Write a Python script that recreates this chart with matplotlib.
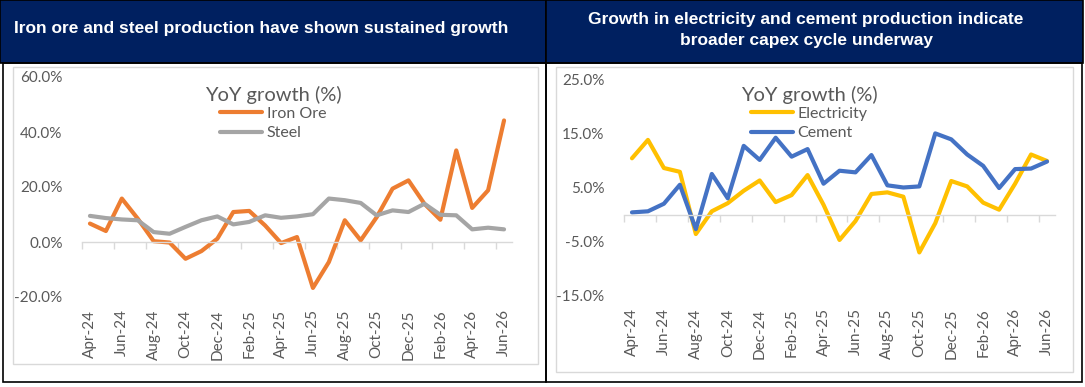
import matplotlib
matplotlib.use('Agg')
import matplotlib.pyplot as plt
from matplotlib.patches import Rectangle

months = ['Apr-24', 'May-24', 'Jun-24', 'Jul-24', 'Aug-24', 'Sep-24', 'Oct-24', 'Nov-24', 'Dec-24',
          'Jan-25', 'Feb-25', 'Mar-25', 'Apr-25', 'May-25', 'Jun-25', 'Jul-25', 'Aug-25', 'Sep-25',
          'Oct-25', 'Nov-25', 'Dec-25', 'Jan-26', 'Feb-26', 'Mar-26', 'Apr-26', 'May-26', 'Jun-26']

iron_ore = [6.7, 4.0, 15.8, 8.5, 0.3, -0.2, -6.1, -3.3, 1.2, 10.9, 11.3, 6.0, -0.4, 1.8,
            -16.7, -7.3, 7.9, 0.6, 9.0, 19.4, 22.4, 13.9, 8.1, 33.3, 12.4, 18.8, 44.2]
steel = [9.5, 8.7, 8.2, 7.9, 3.6, 3.0, 5.5, 7.9, 9.3, 6.4, 7.3, 9.7, 8.8, 9.3,
         10.1, 15.8, 15.2, 14.2, 9.7, 11.5, 10.9, 13.9, 9.9, 9.7, 4.6, 5.2, 4.6]

electricity = [10.4, 13.8, 8.6, 7.9, -3.6, 0.6, 2.1, 4.4, 6.3, 2.3, 3.6, 7.3, 1.8, -4.7,
               -1.2, 3.8, 4.1, 3.3, -7.0, -1.6, 6.2, 5.2, 2.2, 0.9, 5.7, 11.1, 9.9]
cement = [0.4, 0.6, 2.0, 5.5, -2.7, 7.5, 3.0, 12.7, 10.1, 14.2, 10.7, 12.1, 5.7, 8.1,
          7.8, 11.0, 5.4, 5.0, 5.2, 15.0, 13.9, 11.1, 9.0, 4.9, 8.4, 8.5, 9.8]

left_ticks = [-20, 0, 20, 40, 60]
right_ticks = [-15, -5, 5, 15, 25]

W, H = 1085, 387
NAVY = '#002060'
TXT = '#595959'
FONT = 'Lato'


def box(x0, y0, x1, y1):
    # pixel box -> figure fraction rect
    return (x0 / W, 1 - y1 / H), (x1 - x0) / W, (y1 - y0) / H


fig = plt.figure(figsize=(10.85, 3.87), dpi=100)
fig.patch.set_facecolor('white')

# headers and frames
for (x0, x1) in [(0, 546), (546, 1083)]:
    xy, w, h = box(x0, 0, x1, 63)
    fig.patches.append(Rectangle(xy, w, h, transform=fig.transFigure, facecolor=NAVY,
                                 edgecolor='black', linewidth=1.2, zorder=0))
xy, w, h = box(3, 63, 546, 382)
fig.patches.append(Rectangle(xy, w, h, transform=fig.transFigure, facecolor='none',
                             edgecolor='black', linewidth=1.2, zorder=0))
xy, w, h = box(546, 63, 1082, 382)
fig.patches.append(Rectangle(xy, w, h, transform=fig.transFigure, facecolor='none',
                             edgecolor='black', linewidth=1.2, zorder=0))
xy, w, h = box(13, 67, 538, 364)
fig.patches.append(Rectangle(xy, w, h, transform=fig.transFigure, facecolor='none',
                             edgecolor='#D9D9D9', linewidth=1.0, zorder=0))
xy, w, h = box(556, 67, 1073, 372)
fig.patches.append(Rectangle(xy, w, h, transform=fig.transFigure, facecolor='none',
                             edgecolor='#D9D9D9', linewidth=1.0, zorder=0))

fig.text(261 / W, 1 - 28 / H, 'Iron ore and steel production have shown sustained growth',
         color='white', fontsize=12.5, fontweight='bold', family='Liberation Sans',
         ha='center', va='center')
fig.text(806 / W, 1 - 30 / H, 'Growth in electricity and cement production indicate\nbroader capex cycle underway',
         color='white', fontsize=12.5, fontweight='bold', family='Liberation Sans',
         ha='center', va='center', linespacing=1.55)


def make_chart(rect, s1, s2, names, colors, ylim, yticks, leg_anchor):
    ax = fig.add_axes(rect)
    x = range(len(months))
    ax.plot(x, s1, color=colors[0], lw=3.0, label=names[0], solid_capstyle='round', solid_joinstyle='round')
    ax.plot(x, s2, color=colors[1], lw=3.0, label=names[1], solid_capstyle='round', solid_joinstyle='round')
    ax.set_xlim(-0.5, len(months) - 0.5)
    ax.set_ylim(*ylim)
    ax.set_yticks(yticks)
    ax.set_yticklabels(['%.1f%%' % v for v in yticks], family=FONT, fontsize=11, color=TXT)
    ax.tick_params(axis='y', length=0, pad=14)
    for s in ['top', 'right', 'left']:
        ax.spines[s].set_visible(False)
    ax.spines['bottom'].set_position(('data', 0))
    ax.spines['bottom'].set_color('#D9D9D9')
    ax.spines['bottom'].set_linewidth(1.0)
    ax.set_xticks([i - 0.5 for i in range(0, len(months) + 1, 2)])
    ax.tick_params(axis='x', length=5, width=1.0, color='#D9D9D9', labelbottom=False)
    sec = ax.secondary_xaxis(0)
    sec.set_xticks(range(0, len(months), 2))
    sec.set_xticklabels(months[::2], rotation=90, family=FONT, fontsize=11, color=TXT)
    sec.tick_params(length=0, pad=9)
    sec.spines['bottom'].set_visible(False)
    ax.set_facecolor('none')
    leg = ax.legend(title='YoY growth (%)', loc='upper center', bbox_to_anchor=leg_anchor,
                    frameon=False, handlelength=2.6, handletextpad=0.3, labelspacing=0.35,
                    borderaxespad=0, prop={'family': FONT, 'size': 11.5})
    leg.get_title().set_fontfamily(FONT)
    leg.get_title().set_fontsize(14.5)
    leg.get_title().set_color(TXT)
    for t in leg.get_texts():
        t.set_color(TXT)
    leg._legend_box.sep = 2
    return ax


make_chart([82 / W, 1 - 297 / H, 430 / W, 220 / H], iron_ore, steel, ['Iron Ore', 'Steel'],
           ['#ED7D31', '#A5A5A5'], (-20, 60), left_ticks, (0.445, 0.99))
make_chart([624 / W, 1 - 295.7 / H, 431 / W, 216.4 / H], electricity, cement, ['Electricity', 'Cement'],
           ['#FFC000', '#4472C4'], (-15, 25), right_ticks, (0.43, 1.0))

fig.savefig('out.png', dpi=100)
